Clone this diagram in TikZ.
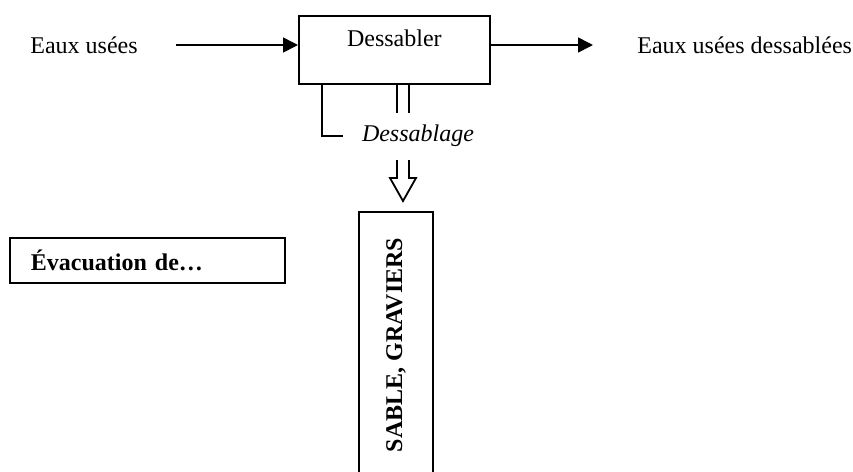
\documentclass[tikz,border=0pt]{standalone}
\usepackage{fontspec}
\setmainfont{Liberation Serif}
\usetikzlibrary{arrows.meta}
\begin{document}
\begin{tikzpicture}[x=0.5pt,y=-0.5pt,
  every node/.style={font=\fontsize{12}{14}\selectfont, inner sep=0pt},
  boxline/.style={draw, line width=0.9pt},
  flow/.style={line width=0.8pt, -{Triangle[length=7.5pt,width=7.5pt]}},
  link/.style={line width=0.9pt}]
\useasboundingbox (0,0) rectangle (853,472);

% main process box
\node[boxline, anchor=north west, minimum width=95.5pt, text height=15.5pt, text depth=18.5pt]
  (dess) at (298,15) {Dessabler};

% input and output
\node[anchor=west] (in) at (30,45) {Eaux usées};
\node[anchor=west] (out) at (637,45) {Eaux usées dessablées};
\coordinate (inA) at (176,45);
\coordinate (outB) at (593,45);
\draw[flow] (inA) -- (inA -| dess.west);
\draw[flow] (outB -| dess.east) -- (outB);

% extraction label and its links
\node[font=\fontsize{12}{14}\selectfont\itshape] (sab) at (418,136) {Dessablage};
\coordinate (lEnd) at (343,136);
\draw[link] (dess.south -| 322,0) |- (lEnd);
\draw[link] (dess.south -| 397,0) -- (397,113);
\draw[link] (dess.south -| 409,0) -- (409,113);

% hollow arrow towards the product
\draw[link] (397,160) -- (397,178) -- (390,178) -- (403,201) -- (416,178) -- (409,178) -- (409,160);

% product box
\node[boxline, rotate=90, minimum width=133pt, minimum height=37pt, font=\fontsize{12}{14}\selectfont\bfseries]
  (sable) at (396,345) {SABLE, GRAVIERS};

% side heading box
\node[boxline, anchor=north west, text width=116.5pt, inner xsep=10.5pt, inner ysep=0pt,
  text height=16.5pt, text depth=6pt, align=left,
  font=\fontsize{12}{14}\selectfont\bfseries] (evac) at (9,237) {Évacuation de…};
\end{tikzpicture}
\end{document}
